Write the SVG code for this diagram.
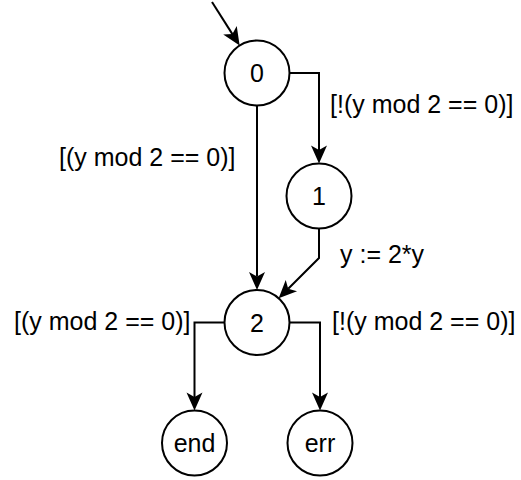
<svg xmlns="http://www.w3.org/2000/svg" width="521" height="480" viewBox="0 0 521 480">
<style>
.n{fill:#fff;stroke:#000;stroke-width:2}
.e{fill:none;stroke:#000;stroke-width:2}
text{font-family:"Liberation Sans",Arial,sans-serif;font-size:25px;fill:#000}
.c{text-anchor:middle}
</style>
<defs>
<marker id="a" markerUnits="userSpaceOnUse" viewBox="-6 -9 21 18" refX="0" refY="0" markerWidth="21" markerHeight="18" orient="auto">
<path d="M13.5 0 L-4.5 -8 L0 0 L-4.5 8 Z" fill="#000"/>
</marker>
</defs>
<rect width="521" height="480" fill="#fff"/>
<g id="edges">
<path class="e" d="M212 2 L232.4 34.1" marker-end="url(#a)"/>
<path class="e" d="M289.5 73 H319 V150" marker-end="url(#a)"/>
<path class="e" d="M257 105.5 V276.5" marker-end="url(#a)"/>
<path class="e" d="M319 228.5 V258 L288.2 288.8" marker-end="url(#a)"/>
<path class="e" d="M224.5 322.5 H194.5 V397" marker-end="url(#a)"/>
<path class="e" d="M289.5 322.5 H320 V397" marker-end="url(#a)"/>
<text x="330" y="113">[!(y mod 2 == 0)]</text>
<text x="59" y="166">[(y mod 2 == 0)]</text>
<text x="340" y="263">y := 2*y</text>
<text x="14" y="330">[(y mod 2 == 0)]</text>
<text x="332" y="330">[!(y mod 2 == 0)]</text>
</g>
<g id="n0"><circle class="n" cx="257" cy="73" r="32.5"/><text class="c" x="257" y="82">0</text></g>
<g id="n1"><circle class="n" cx="319" cy="196" r="32.5"/><text class="c" x="319" y="205">1</text></g>
<g id="n2"><circle class="n" cx="257" cy="322.5" r="32.5"/><text class="c" x="257" y="331.5">2</text></g>
<g id="nend"><circle class="n" cx="194.5" cy="443" r="32.5"/><text class="c" x="194.5" y="452">end</text></g>
<g id="nerr"><circle class="n" cx="320" cy="443" r="32.5"/><text class="c" x="320" y="452">err</text></g>
</svg>
